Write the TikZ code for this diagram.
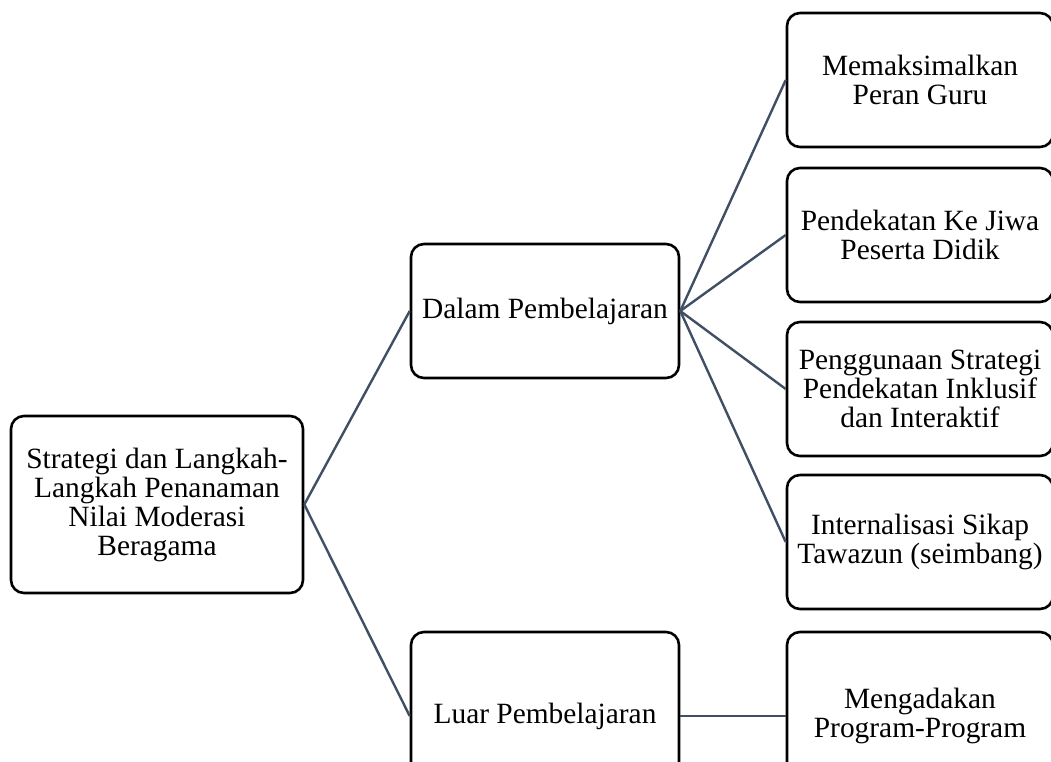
\documentclass[tikz,border=0pt]{standalone}
\usepackage{fontspec}
\setmainfont{Liberation Serif}
\definecolor{conn}{RGB}{64,79,100}
\begin{document}
\begin{tikzpicture}[x=1pt,y=-1pt,
  box/.style={draw=black, line width=2.6pt, rounded corners=13pt, align=center,
    inner sep=0pt, fill=white, font=\fontsize{29.4}{29}\selectfont},
  link/.style={draw=conn, line width=2.4pt}]
\clip (0,0) rectangle (1051,761);
\fill[white] (0,0) rectangle (1051,761);
\node[box, minimum width=292pt, minimum height=177pt] (root) at (157,504.5)
  {Strategi dan Langkah-\\Langkah Penanaman\\Nilai Moderasi\\Beragama};
\node[box, minimum width=268pt, minimum height=134pt] (dalam) at (545,311) {Dalam Pembelajaran};
\node[box, minimum width=268pt, minimum height=168pt] (luar) at (545,716) {Luar Pembelajaran};
\node[box, minimum width=266pt, minimum height=134pt] (m1) at (920,80) {Memaksimalkan\\Peran Guru};
\node[box, minimum width=266pt, minimum height=134pt] (m2) at (920,235) {Pendekatan Ke Jiwa\\Peserta Didik};
\node[box, minimum width=266pt, minimum height=134pt] (m3) at (920,389) {Penggunaan Strategi\\Pendekatan Inklusif\\dan Interaktif};
\node[box, minimum width=266pt, minimum height=134pt] (m4) at (920,542) {Internalisasi Sikap\\Tawazun (seimbang)};
\node[box, minimum width=266pt, minimum height=168pt] (m5) at (920,716) {Mengadakan\\Program-Program};
\draw[link] (root.east) -- (dalam.west);
\draw[link] (root.east) -- (luar.west);
\draw[link] (dalam.east) -- (m1.west);
\draw[link] (dalam.east) -- (m2.west);
\draw[link] (dalam.east) -- (m3.west);
\draw[link] (dalam.east) -- (m4.west);
\draw[link] (luar.east) -- (m5.west);
\end{tikzpicture}
\end{document}
